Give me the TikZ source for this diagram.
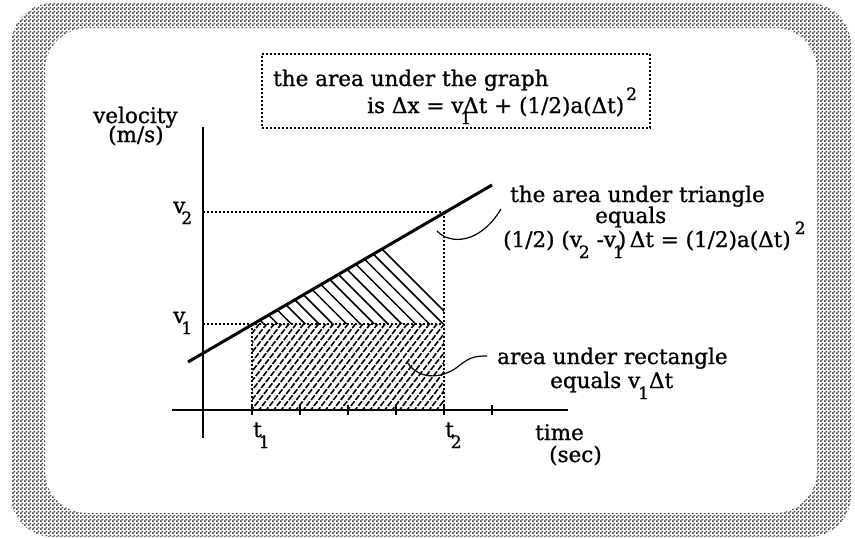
\documentclass[tikz,border=0pt]{standalone}
\usepackage{fontspec}
\setmainfont{DejaVu Serif}[FakeBold=1]
\usetikzlibrary{patterns}
\pgfdeclarepatternformonly{checker}{\pgfpointorigin}{\pgfpoint{4pt}{4pt}}{\pgfpoint{4pt}{4pt}}{%
  \pgfpathrectangle{\pgfpointorigin}{\pgfpoint{2pt}{2pt}}%
  \pgfpathrectangle{\pgfpoint{2pt}{2pt}}{\pgfpoint{2pt}{2pt}}%
  \pgfusepath{fill}}
\newcommand\lowsub[1]{\raisebox{-11pt}{\fontsize{17}{17}\selectfont #1}}
\newcommand\highsup[1]{\raisebox{13pt}{\fontsize{17}{17}\selectfont #1}}
\begin{document}
\begin{tikzpicture}[x=1pt,y=-1pt,
  lbl/.style={inner sep=0pt, font=\fontsize{21.5}{24}\selectfont},
  dotline/.style={line width=1.8pt, dash pattern=on 2pt off 2pt},
  axisline/.style={line width=1.5pt},
  leader/.style={line width=1.2pt},
  hatchtri/.style={line width=1.5pt},
  hatchrect/.style={line width=1.6pt, dash pattern=on 6pt off 1.6pt},
  mainline/.style={line width=3pt}]
\useasboundingbox (0,0) rectangle (855,538);
\fill[white] (0,0) rectangle (855,538);
% checkered frame
\fill[pattern=checker, pattern color=black!75, even odd rule, rounded corners=42pt]
  (11,3) rectangle (851,537) (45,28) rectangle (817,513);

% top box
\node[draw, dotline, line width=1.6pt, minimum width=388pt, minimum height=74pt, inner sep=0pt] (box) at (456,91) {};
\node[lbl, anchor=base west] (boxl1) at (273,86) {the area under the graph};
\node[lbl, anchor=base west] (boxl2) at (367,113) {is Δx = v\kern-3pt\lowsub{1}\kern-8pt Δt + (1/2)a(Δt)\kern2pt\highsup{2}};

% hatching of the triangle
\begin{scope}
  \clip (252,324) -- (444,212) -- (444,324) -- cycle;
  \foreach \a in {250,263.8,...,470} \draw[hatchtri] (\a-130,194) -- (\a+20,344);
\end{scope}
% hatching of the rectangle
\begin{scope}
  \clip (252,324) rectangle (444,410);
  \foreach \b in {176,183.4,...,450} \draw[hatchrect] (\b,412) -- (\b+70,322);
\end{scope}

% named points
\coordinate (v2l) at (203,212); \coordinate (v2r) at (444,212);
\coordinate (v1l) at (203,324); \coordinate (v1r) at (444,324);
\coordinate (t1b) at (252,410); \coordinate (t2b) at (444,410);
\coordinate (t1v) at (252,324);

% dotted guides
\draw[dotline] (v2l) -- (v2r);
\draw[dotline] (v1l) -- (v1r);
\draw[dotline] (v2r) -- (t2b);
\draw[dotline] (t1v) -- (t1b);

% axes
\coordinate (ytop) at (203,127); \coordinate (ybot) at (203,438);
\coordinate (xl) at (172,410); \coordinate (xr) at (568,410);
\draw[axisline] (ytop) -- (ybot);
\draw[axisline] (xl) -- (xr);
\foreach \x in {252,300,348,396,444,492} \draw[axisline] (\x,405) -- (\x,415);

% velocity line
\coordinate (la) at (188,362); \coordinate (lb) at (492,185);
\draw[mainline] (la) -- (lb);

% leaders
\coordinate (tri) at (437,231); \coordinate (trilab) at (501,209);
\draw[leader] (tri) .. controls (450,245) and (480,244) .. (trilab);
\coordinate (rec) at (407,362); \coordinate (recmid) at (460,365); \coordinate (reclab) at (487,356);
\draw[leader] (rec) .. controls (420,382) and (445,378) .. (recmid) .. controls (470,357) and (476,356) .. (reclab);

% axis labels
\node[lbl, anchor=base west] (vel) at (93,123) {velocity};
\node[lbl, anchor=base west] (ms) at (108,142) {(m/s)};
\node[lbl, anchor=base west] (tm) at (535,440) {time};
\node[lbl, anchor=base west] (sec) at (549,462) {(sec)};
\node[lbl, anchor=base west] (v2) at (173,213) {v\kern-4pt\lowsub{2}};
\node[lbl, anchor=base west] (v1) at (173,323) {v\kern-4pt\lowsub{1}};
\node[lbl, anchor=base west] (t1) at (253,437) {t\kern-3pt\lowsub{1}};
\node[lbl, anchor=base west] (t2) at (445,437) {t\kern-3pt\lowsub{2}};

% triangle label
\node[lbl, anchor=base west] (tri1) at (510,202) {the area under triangle};
\node[lbl, anchor=base west] (tri2) at (595,223) {equals};
\node[lbl, anchor=base west] (tri3) at (503,247) {(1/2) (v\kern-3pt\lowsub{2} -v\kern-3pt\lowsub{1}\kern-6pt)\,Δt = (1/2)a(Δt)\kern4pt\highsup{2}};

% rectangle label
\node[lbl, anchor=base west] (rec1) at (497,364) {area under rectangle};
\node[lbl, anchor=base west] (rec2) at (550,388) {equals v\kern-2pt\lowsub{1}Δt};
\end{tikzpicture}
\end{document}
